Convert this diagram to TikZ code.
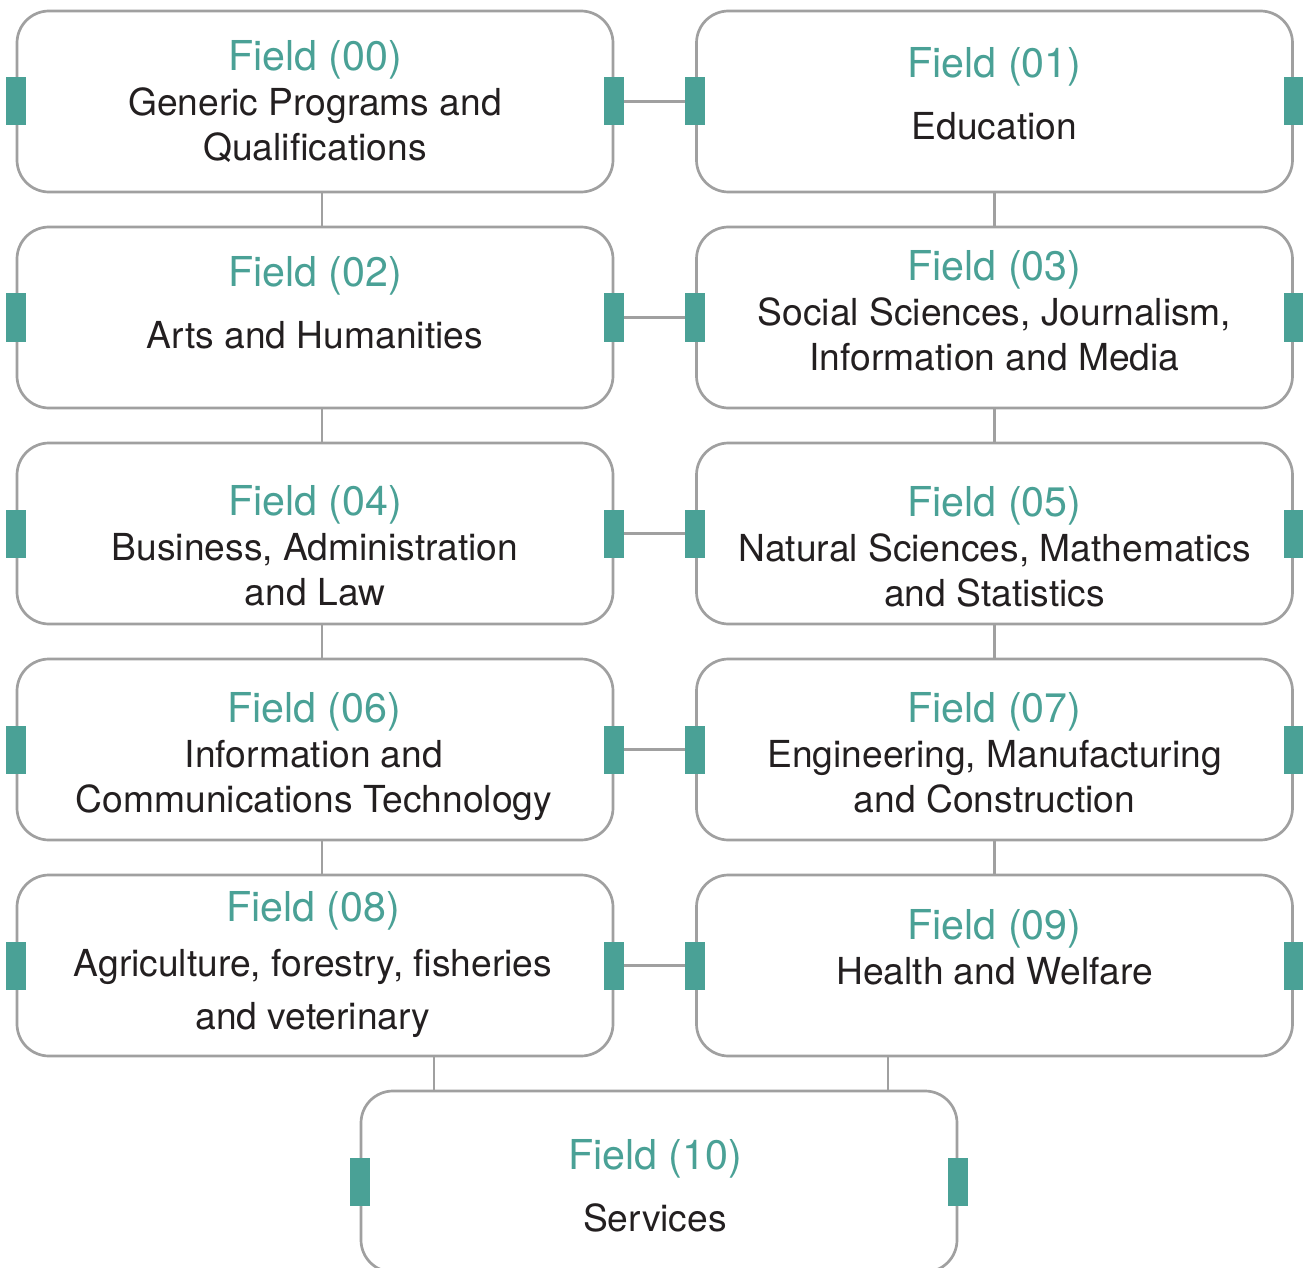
\documentclass[tikz,border=0pt]{standalone}
\usepackage{fontspec}
\setmainfont{TeX Gyre Heros}
\usetikzlibrary{calc}

\definecolor{fieldteal}{HTML}{4AA196}
\definecolor{boxgray}{HTML}{A0A0A0}
\definecolor{bodyblack}{HTML}{231F20}

\newcommand{\fldtitle}[1]{{\color{fieldteal}\fontsize{20.6pt}{22.5pt}\selectfont\strut Field (#1)}}
\newcommand{\fldbody}{\fontsize{18.6pt}{22.5pt}\selectfont}

\begin{document}
\begin{tikzpicture}[x=0.5pt,y=-0.5pt,
    fieldbox/.style={draw=boxgray,line width=1.35pt,fill=white,rounded corners=16pt,
      minimum width=298pt,minimum height=90.5pt,inner sep=0pt},
    fieldtext/.style={align=center,text=bodyblack,font=\fldbody,inner sep=0pt},
    tab/.style={fill=fieldteal,draw=none,minimum width=10pt,minimum height=24pt,inner sep=0pt},
    link/.style={draw=boxgray,line width=1.2pt}]
  \useasboundingbox (0,0) rectangle (1303,1268);
  \clip (0,0) rectangle (1303,1268);

  % boxes
  \node[fieldbox] (f00) at (315,101.5) {};
  \node[fieldbox] (f01) at (994.5,101.5) {};
  \node[fieldbox] (f02) at (315,317.5) {};
  \node[fieldbox] (f03) at (994.5,317.5) {};
  \node[fieldbox] (f04) at (315,533.5) {};
  \node[fieldbox] (f05) at (994.5,533.5) {};
  \node[fieldbox] (f06) at (315,749.5) {};
  \node[fieldbox] (f07) at (994.5,749.5) {};
  \node[fieldbox] (f08) at (315,965.5) {};
  \node[fieldbox] (f09) at (994.5,965.5) {};
  \node[fieldbox] (f10) at (659,1181.5) {};

  % texts
  \node[fieldtext] (t00) at ([yshift=-2.5pt]f00.center) {\fldtitle{00}\\\strut Generic Programs and\\\strut Qualifications};
  \node[fieldtext] (t01) at ([yshift=0.75pt]f01.center) {\fldtitle{01}\\[8.5pt]\strut Education};
  \node[fieldtext] (t02) at ([yshift=4.5pt]f02.center) {\fldtitle{02}\\[9pt]\strut Arts and Humanities};
  \node[fieldtext] (t03) at ([yshift=0.75pt]f03.center) {\fldtitle{03}\\\strut Social Sciences, Journalism,\\\strut Information and Media};
  \node[fieldtext] (t04) at ([yshift=-9pt]f04.center) {\fldtitle{04}\\\strut Business, Administration\\\strut and Law};
  \node[fieldtext] (t05) at ([yshift=-9.5pt]f05.center) {\fldtitle{05}\\\strut Natural Sciences, Mathematics\\\strut and Statistics};
  \node[fieldtext] (t06) at ([yshift=-4.5pt,xshift=-0.5pt]f06.center) {\fldtitle{06}\\\strut Information and\\\strut Communications Technology};
  \node[fieldtext] (t07) at ([yshift=-4.5pt]f07.center) {\fldtitle{07}\\\strut Engineering, Manufacturing\\\strut and Construction};
  \node[fieldtext] (t08) at ([yshift=-0.25pt,xshift=-1pt]f08.center) {\fldtitle{08}\\[5pt]\strut Agriculture, forestry, fisheries\\[4pt]\strut and veterinary};
  \node[fieldtext] (t09) at ([yshift=6.25pt]f09.center) {\fldtitle{09}\\\strut Health and Welfare};
  \node[fieldtext] (t10) at ([yshift=-4.75pt,xshift=-2pt]f10.center) {\fldtitle{10}\\[8.5pt]\strut Services};

  % links between boxes
  \draw[link] (f00.east) -- (f01.west);
  \draw[link] (f02.east) -- (f03.west);
  \draw[link] (f04.east) -- (f05.west);
  \draw[link] (f06.east) -- (f07.west);
  \draw[link] (f08.east) -- (f09.west);
  \draw[link] ([xshift=3.5pt]f00.south) -- ([xshift=3.5pt]f02.north);
  \draw[link] ([xshift=3.5pt]f02.south) -- ([xshift=3.5pt]f04.north);
  \draw[link] ([xshift=3.5pt]f04.south) -- ([xshift=3.5pt]f06.north);
  \draw[link] ([xshift=3.5pt]f06.south) -- ([xshift=3.5pt]f08.north);
  \draw[link] (f01.south) -- (f03.north);
  \draw[link] (f03.south) -- (f05.north);
  \draw[link] (f05.south) -- (f07.north);
  \draw[link] (f07.south) -- (f09.north);
  \coordinate (j08) at ([xshift=-112.5pt]f10.north);
  \coordinate (j09) at ([xshift=114.5pt]f10.north);
  \draw[link] (j08) -- (j08 |- f08.south);
  \draw[link] (j09) -- (j09 |- f09.south);

  % side tabs
  \foreach \f in {00,01,02,03,04,05,06,07,08,09,10}{
    \node[tab] (tw\f) at (f\f.west) {};
    \node[tab] (te\f) at (f\f.east) {};
  }
\end{tikzpicture}
\end{document}
